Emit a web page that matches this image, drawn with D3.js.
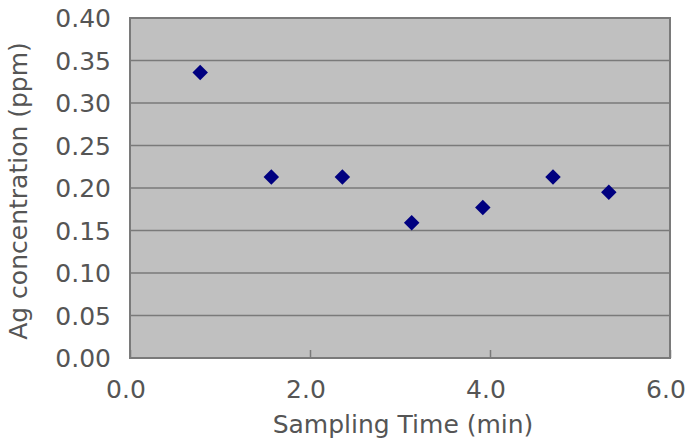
<!DOCTYPE html>
<html>
<head>
<meta charset="utf-8">
<script src="https://cdn.jsdelivr.net/npm/d3@7"></script>
<style>
  body { margin: 0; background: #fff; }
  text { font-family: "DejaVu Sans", sans-serif; fill: #555; }
</style>
</head>
<body>
<svg id="chart" width="694" height="438"></svg>
<script>
// data
var times = [0.78, 1.57, 2.36, 3.13, 3.92, 4.70, 5.32];
var agConc = [0.336, 0.213, 0.213, 0.159, 0.177, 0.213, 0.195];
var xTicks = [0, 2, 4, 6];
var yTicks = [0, 0.05, 0.10, 0.15, 0.20, 0.25, 0.30, 0.35, 0.40];

var svg = d3.select("#chart");
// plot box (note: "top" clashes with window.top, so use other names)
var plotL = 130, plotR = 670, plotT = 18, plotB = 358;

var x = d3.scaleLinear().domain([0, 6]).range([plotL, plotR]);
var y = d3.scaleLinear().domain([0, 0.4]).range([plotB, plotT]);

// plot area
svg.append("rect")
  .attr("x", plotL).attr("y", plotT)
  .attr("width", plotR - plotL).attr("height", plotB - plotT)
  .style("fill", "#c0c0c0");

// gridlines
svg.selectAll("line.grid")
  .data(yTicks.slice(1, -1))
  .enter().append("line")
  .attr("class", "grid")
  .attr("x1", plotL).attr("x2", plotR)
  .attr("y1", function(d) { return y(d); })
  .attr("y2", function(d) { return y(d); })
  .style("stroke", "#7a7a7a")
  .style("stroke-width", 1.5);

// x axis ticks pointing up into the plot
var xAxis = svg.append("g")
  .attr("transform", "translate(0," + plotB + ")")
  .call(d3.axisBottom(x).tickValues(xTicks).tickSize(-8).tickFormat(""));
xAxis.select(".domain").remove();
xAxis.selectAll("line").style("stroke", "#7a7a7a").style("stroke-width", 1.5);

// border
svg.append("rect")
  .attr("x", plotL).attr("y", plotT)
  .attr("width", plotR - plotL).attr("height", plotB - plotT)
  .style("fill", "none")
  .style("stroke", "#7a7a7a")
  .style("stroke-width", 2);

// tick labels
svg.selectAll("text.ylab")
  .data(yTicks)
  .enter().append("text")
  .attr("class", "ylab")
  .attr("x", plotL - 19)
  .attr("y", function(d) { return y(d) + 9; })
  .attr("text-anchor", "end")
  .style("font-size", "25px")
  .text(function(d) { return d3.format(".2f")(d); });

svg.selectAll("text.xlab")
  .data(xTicks)
  .enter().append("text")
  .attr("class", "xlab")
  .attr("x", function(d) { return x(d) - 4; })
  .attr("y", plotB + 40)
  .attr("text-anchor", "middle")
  .style("font-size", "25px")
  .text(function(d) { return d3.format(".1f")(d); });

// axis titles
svg.append("text")
  .attr("x", 403).attr("y", 433)
  .attr("text-anchor", "middle")
  .style("font-size", "25px")
  .text("Sampling Time (min)");

svg.append("text")
  .attr("transform", "translate(27,191) rotate(-90)")
  .attr("text-anchor", "middle")
  .style("font-size", "25px")
  .text("Ag concentration (ppm)");

// points
svg.selectAll("path.pt")
  .data(times)
  .enter().append("path")
  .attr("class", "pt")
  .attr("d", d3.symbol().type(d3.symbolSquare).size(120))
  .attr("transform", function(d, i) {
    return "translate(" + x(d) + "," + y(agConc[i]) + ") rotate(45)";
  })
  .style("fill", "#000080");
</script>
</body>
</html>
